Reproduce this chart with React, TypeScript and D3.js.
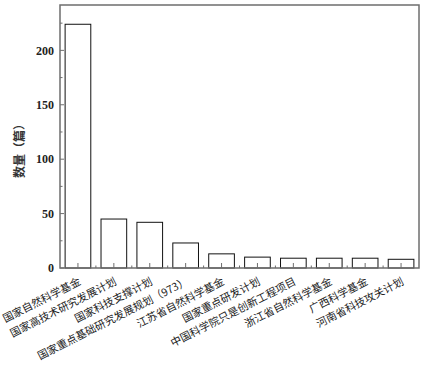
import React from "react";
import * as d3 from "d3";

const categories = [
  "国家自然科学基金",
  "国家高技术研究发展计划",
  "国家科技支撑计划",
  "国家重点基础研究发展规划（973）",
  "江苏省自然科学基金",
  "国家重点研发计划",
  "中国科学院只是创新工程项目",
  "浙江省自然科学基金",
  "广西科学基金",
  "河南省科技攻关计划",
];
const values = [224, 45, 42, 23, 13, 10, 9, 9, 9, 8];
const yTicks = [0, 50, 100, 150, 200];
const yMinorTicks = [25, 75, 125, 175, 225];
const yLabel = "数量（篇）";

const W = 425;
const H = 366;
const left = 60;
const right = 419;
const top = 5;
const bottom = 268;

export default function App() {
  const x = d3.scaleBand<string>().domain(categories).range([left, right]).paddingInner(0.285).paddingOuter(0.1425);
  const y = d3.scaleLinear().domain([0, 241.7]).range([bottom, top]);
  const step = x.step();
  const frame = "#6e6e6e";
  const serif = "'Liberation Serif', 'Times New Roman', serif";
  const cjk = "'Noto Sans CJK SC', sans-serif";
  return (
    <svg width={W} height={H} style={{ position: "absolute", left: 0, top: 0, background: "#fff" }}>
      {categories.map((c, i) => (
        <rect
          key={c}
          x={x(c)!}
          y={y(values[i])}
          width={x.bandwidth()}
          height={bottom - y(values[i])}
          fill="#fff"
          stroke="#111"
          strokeWidth={1}
        />
      ))}
      <rect x={left} y={top} width={right - left} height={bottom - top} fill="none" stroke={frame} strokeWidth={1.5} />
      {yTicks.map((t) => (
        <g key={t}>
          <line x1={left} x2={left + 4} y1={y(t)} y2={y(t)} stroke={frame} strokeWidth={1} />
          <text x={54} y={y(t)} dy="0.35em" textAnchor="end" fontFamily={serif} fontSize={12} fontWeight="bold" fill="#222">
            {t}
          </text>
        </g>
      ))}
      {yMinorTicks.map((t) => (
        <line key={t} x1={left} x2={left + 2.5} y1={y(t)} y2={y(t)} stroke={frame} strokeWidth={1} />
      ))}
      {categories.map((c) => {
        const cx = x(c)! + x.bandwidth() / 2;
        return <line key={c} x1={cx} x2={cx} y1={bottom} y2={bottom - 5} stroke={frame} strokeWidth={1} />;
      })}
      {categories.slice(1).map((c) => {
        const bx = x(c)! - (step - x.bandwidth()) / 2;
        return <line key={c} x1={bx} x2={bx} y1={bottom} y2={bottom - 2.5} stroke={frame} strokeWidth={1} />;
      })}
      {categories.map((c) => {
        const cx = x(c)! + x.bandwidth() / 2;
        return (
          <text
            key={c}
            transform={`translate(${cx + 3.5},${bottom + 16}) rotate(-27)`}
            textAnchor="end"
            fontFamily={cjk}
            fontSize={10.7}
            fill="#222"
          >
            {c}
          </text>
        );
      })}
      <text
        transform={`translate(24,148) rotate(-90)`}
        textAnchor="middle"
        fontFamily={cjk}
        fontSize={12}
        fontWeight="bold"
        fill="#333"
      >
        {yLabel}
      </text>
    </svg>
  );
}
